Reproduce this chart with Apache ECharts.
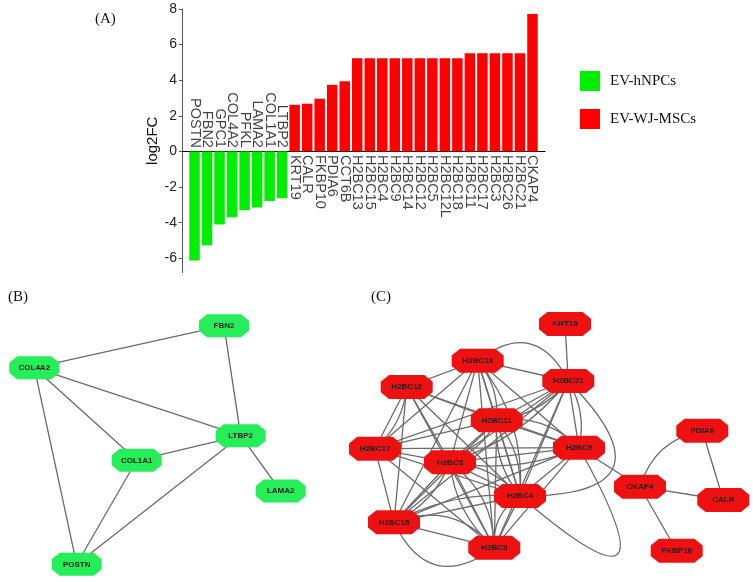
<!DOCTYPE html>
<html><head><meta charset="utf-8">
<script src="https://cdn.jsdelivr.net/npm/echarts@6/dist/echarts.min.js"></script>
<style>html,body{margin:0;padding:0;background:#fff}#c{width:753px;height:582px}</style>
</head><body><div id="c"></div>
<script>
// ---------- Panel A data ----------
const hnpcGenes = ['POSTN','FBN2','GPC1','COL4A2','PFKL','LAMA2','COL1A1','LTBP2'];
const hnpcLogFC = [-6.13,-5.27,-4.1,-3.7,-3.3,-3.15,-2.78,-2.63];
const mscGenes = ['KRT19','CALR','FKBP10','PDIA6','CCT6B','H2BC13','H2BC15','H2BC4','H2BC9','H2BC14','H2BC12','H2BC5','H2BC12L','H2BC18','H2BC11','H2BC17','H2BC3','H2BC26','H2BC21','CKAP4'];
const mscLogFC = [2.62,2.68,2.96,3.74,3.94,5.24,5.24,5.24,5.24,5.24,5.24,5.24,5.24,5.24,5.52,5.52,5.52,5.52,5.52,7.72];
const yTicks = [-6,-4,-2,0,2,4,6,8];
const seriesNames = ['EV-hNPCs','EV-WJ-MSCs'];

// ---------- Panel B network (layout units) ----------
const netBNodes = ['FBN2','COL4A2','LTBP2','COL1A1','LAMA2','POSTN'];
const netBX = [224,34.3,240.7,136.7,280.7,76.7];
const netBY = [25.7,67.7,135.7,160.3,191,264.3];
const netBEdges = [['COL4A2','FBN2'],['FBN2','LTBP2'],['COL4A2','LTBP2'],['COL4A2','COL1A1'],['COL4A2','POSTN'],['COL1A1','LTBP2'],['COL1A1','POSTN'],['LTBP2','POSTN'],['LTBP2','LAMA2']];

// ---------- Panel C network (layout units) ----------
const netCNodes = ['KRT19','H2BC13','H2BC21','H2BC12','H2BC11','PDIA6','H2BC17','H2BC9','H2BC5','CKAP4','H2BC4','CALR','H2BC15','H2BC3','FKBP10'];
const netCX = [235,147.7,238.3,76.7,166.7,372.3,45,249,120,310,190,393.3,64,164.3,346.7];
const netCY = [24,60.7,81,87,120.3,130.7,148.7,147.7,162.3,186.7,196,200,222.3,247.7,250.7];
// [source, target, curveness]
const netCEdges = [
 ['H2BC13','H2BC21',0],['H2BC13','H2BC12',0],['H2BC13','H2BC11',0],['H2BC13','H2BC17',0],['H2BC13','H2BC9',0],
 ['H2BC13','H2BC5',0],['H2BC13','H2BC4',0],['H2BC13','H2BC15',0],['H2BC13','H2BC3',0],
 ['H2BC21','H2BC11',0],['H2BC21','H2BC17',0],['H2BC21','H2BC9',0],['H2BC21','H2BC5',0],['H2BC21','H2BC4',0],
 ['H2BC21','H2BC15',0],['H2BC21','H2BC3',0],
 ['H2BC12','H2BC11',0],['H2BC12','H2BC17',0],['H2BC12','H2BC9',0],['H2BC12','H2BC5',0],['H2BC12','H2BC4',0],
 ['H2BC12','H2BC15',0],['H2BC12','H2BC3',0],
 ['H2BC11','H2BC17',0],['H2BC11','H2BC9',0],['H2BC11','H2BC5',0],['H2BC11','H2BC4',0],['H2BC11','H2BC15',0],['H2BC11','H2BC3',0],
 ['H2BC17','H2BC9',0],['H2BC17','H2BC5',0],['H2BC17','H2BC4',0],['H2BC17','H2BC15',0],['H2BC17','H2BC3',0],
 ['H2BC9','H2BC5',0],['H2BC9','H2BC4',0],['H2BC9','H2BC15',0],['H2BC9','H2BC3',0],
 ['H2BC5','H2BC4',0],['H2BC5','H2BC15',0],['H2BC5','H2BC3',0],
 ['H2BC4','H2BC15',0],['H2BC4','H2BC3',0],['H2BC15','H2BC3',0],
 ['H2BC13','H2BC21',0.6],['H2BC13','H2BC4',0.2],['H2BC21','H2BC4',1.2],['H2BC9','H2BC4',2.8],
 ['H2BC11','H2BC9',0.25],['H2BC11','H2BC4',0.2],['H2BC11','H2BC4',-0.2],['H2BC21','H2BC9',0.2],
 ['H2BC21','H2BC11',0.2],['H2BC21','H2BC5',0.15],['H2BC5','H2BC3',0.25],['H2BC5','H2BC3',-0.2],
 ['H2BC15','H2BC3',0.35],['H2BC15','H2BC3',-0.6],['H2BC15','H2BC4',0.15],['H2BC5','H2BC4',0.2],
 ['H2BC13','H2BC11',0.2],['H2BC12','H2BC17',0.2],['H2BC5','H2BC15',0.2],['H2BC11','H2BC5',0.2],
 ['H2BC9','H2BC5',0.15],['H2BC4','H2BC3',-0.3],
 ['KRT19','H2BC21',0],['H2BC9','CKAP4',0],['CKAP4','PDIA6',0.3],['PDIA6','CALR',0],['CKAP4','CALR',0],['CKAP4','FKBP10',0]
];

const octagon = 'path://M16 0 L84 0 L100 28 L100 72 L84 100 L16 100 L0 72 L0 28 Z';
const sans = 'Liberation Sans, Arial, sans-serif';
const serif = 'Liberation Serif, Times New Roman, serif';

const labelData = [];
hnpcGenes.forEach((g, i) => labelData.push({name: g, value: [i + 1, 0], label: {position: 'top', align: 'right'}}));
mscGenes.forEach((g, i) => labelData.push({name: g, value: [hnpcGenes.length + i + 1, 0], label: {position: 'bottom', align: 'left'}}));

const nodeLabel = {show: true, position: 'inside', fontSize: 8, fontWeight: 'bold', fontFamily: sans, color: '#1a1a1a'};

const chart = echarts.init(document.getElementById('c'), null, {renderer: 'canvas'});
chart.setOption({
  animation: false,
  backgroundColor: '#fff',
  title: [
    {text: '(A)', left: 95, top: 12, padding: 0, textStyle: {fontFamily: serif, fontSize: 15, fontWeight: 'normal', color: '#111'}},
    {text: '(B)', left: 8, top: 290, padding: 0, textStyle: {fontFamily: serif, fontSize: 15, fontWeight: 'normal', color: '#111'}},
    {text: '(C)', left: 371, top: 290, padding: 0, textStyle: {fontFamily: serif, fontSize: 15, fontWeight: 'normal', color: '#111'}}
  ],
  legend: {
    data: seriesNames, orient: 'vertical', left: 580, top: 71, padding: 0,
    itemWidth: 20, itemHeight: 20, itemGap: 18, icon: 'rect', selectedMode: false,
    textStyle: {fontFamily: serif, fontSize: 15, color: '#111', padding: [0, 0, 0, 5]}
  },
  grid: [
    {left: 182, top: 9, width: 363, height: 263.5, outerBoundsMode: 'none'},
    {left: 0, top: 300, width: 330, height: 282, outerBoundsMode: 'none'},
    {left: 330, top: 300, width: 423, height: 282, outerBoundsMode: 'none'}
  ],
  xAxis: [
    {gridIndex: 0, type: 'value', min: 0, max: hnpcGenes.length + mscGenes.length + 1,
     axisLine: {show: true, onZero: true, lineStyle: {color: '#000', width: 1.2}},
     axisTick: {show: false}, axisLabel: {show: false}, splitLine: {show: false}},
    {gridIndex: 1, type: 'value', min: 0, max: 330, show: false, splitLine: {show: false}},
    {gridIndex: 2, type: 'value', min: 0, max: 423, show: false, splitLine: {show: false}}
  ],
  yAxis: [
    {gridIndex: 0, type: 'value', min: -6.8, max: 8,
     name: 'log2FC', nameLocation: 'middle', nameGap: 18, nameRotate: 90,
     nameTextStyle: {fontFamily: sans, fontSize: 15, color: '#111'},
     axisLine: {show: true, onZero: false, lineStyle: {color: '#555', width: 1}},
     axisTick: {show: true, length: 3, customValues: yTicks, lineStyle: {color: '#555'}},
     axisLabel: {show: true, customValues: yTicks, fontFamily: sans, fontSize: 14, color: '#222', margin: 5},
     splitLine: {show: false}},
    {gridIndex: 1, type: 'value', min: 0, max: 282, inverse: true, show: false, splitLine: {show: false}},
    {gridIndex: 2, type: 'value', min: 0, max: 282, inverse: true, show: false, splitLine: {show: false}}
  ],
  series: [
    {name: seriesNames[0], type: 'bar', xAxisIndex: 0, yAxisIndex: 0, barWidth: 10.5, barGap: '-100%',
     itemStyle: {color: '#00ee00'}, data: hnpcLogFC.map((v, i) => [i + 1, v])},
    {name: seriesNames[1], type: 'bar', xAxisIndex: 0, yAxisIndex: 0, barWidth: 10.5, barGap: '-100%',
     itemStyle: {color: '#ff0000'}, data: mscLogFC.map((v, i) => [hnpcGenes.length + i + 1, v])},
    {name: 'labels', type: 'scatter', xAxisIndex: 0, yAxisIndex: 0, symbolSize: 1, silent: true,
     itemStyle: {color: 'rgba(0,0,0,0)'},
     label: {show: true, formatter: p => p.name, rotate: -90, verticalAlign: 'middle', distance: 3,
             fontFamily: sans, fontSize: 14.5, color: '#111'},
     data: labelData},
    {name: 'netB', type: 'graph', coordinateSystem: 'cartesian2d', xAxisIndex: 1, yAxisIndex: 1, layout: 'none',
     symbol: octagon, symbolSize: [50, 23], silent: true,
     itemStyle: {color: '#25ee5a'}, label: nodeLabel,
     lineStyle: {color: '#6a6a6a', width: 1.3, opacity: 1},
     data: netBNodes.map((n, i) => ({name: n, value: [netBX[i], netBY[i]]})),
     links: netBEdges.map(e => ({source: e[0], target: e[1]}))},
    {name: 'netC', type: 'graph', coordinateSystem: 'cartesian2d', xAxisIndex: 2, yAxisIndex: 2, layout: 'none',
     symbol: octagon, symbolSize: [52, 24], silent: true,
     itemStyle: {color: '#ee1111'}, label: nodeLabel,
     lineStyle: {color: '#6a6a6a', width: 1.3, opacity: 1},
     data: netCNodes.map((n, i) => ({name: n, value: [netCX[i], netCY[i]]})),
     links: netCEdges.map(e => ({source: e[0], target: e[1], lineStyle: {curveness: e[2]}}))}
  ]
});
</script></body></html>
